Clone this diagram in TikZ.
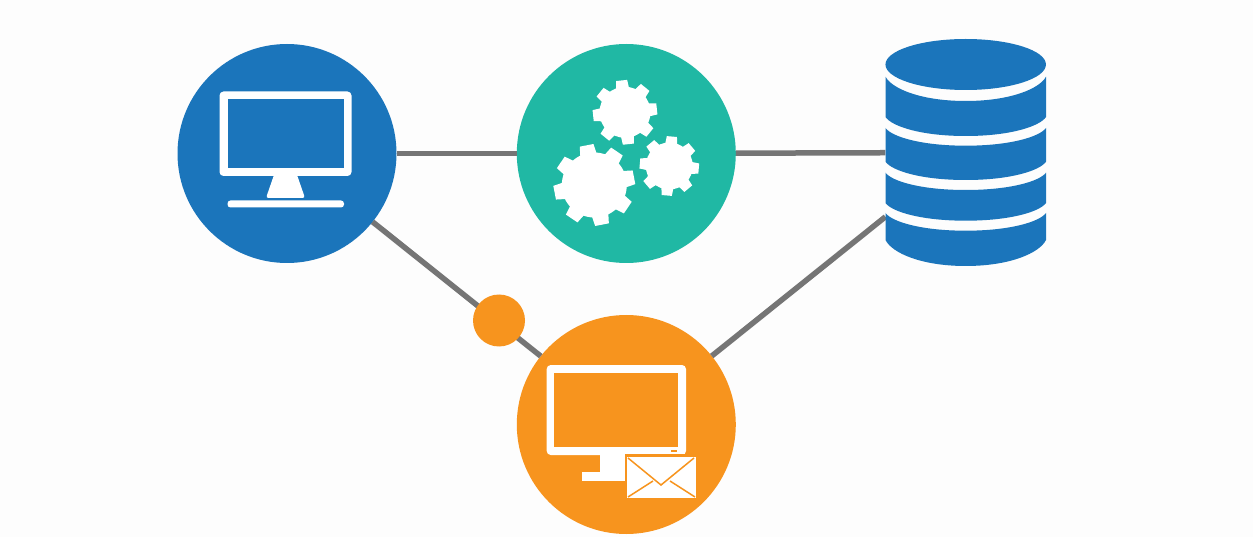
\documentclass[tikz,border=0pt]{standalone}
\definecolor{bblue}{HTML}{1B75BB}
\definecolor{tteal}{HTML}{20B8A4}
\definecolor{oorange}{HTML}{F7941E}
\definecolor{lgray}{HTML}{757575}
\definecolor{paper}{HTML}{FDFDFD}
\tikzset{
  hub/.style={circle,inner sep=0pt,minimum size=#1,outer sep=0pt},
  link/.style={draw=lgray,line width=5.5pt},
}
% gear: cx cy rin rout rotation
\newcommand{\mygear}[5]{%
  \fill[white] (#1,#2) circle[radius=#3];
  \foreach \k in {0,...,7}{%
    \pgfmathsetmacro{\aa}{#5+45*\k}%
    \pgfmathsetmacro{\db}{asin(0.21*#4/#3)}%
    \pgfmathsetmacro{\dt}{asin(0.17)}%
    \fill[white]
      ({#1+(#3-1)*sin(\aa-\db)},{#2-(#3-1)*cos(\aa-\db)}) --
      ({#1+#4*sin(\aa-\dt)},{#2-#4*cos(\aa-\dt)}) --
      ({#1+#4*sin(\aa+\dt)},{#2-#4*cos(\aa+\dt)}) --
      ({#1+(#3-1)*sin(\aa+\db)},{#2-(#3-1)*cos(\aa+\db)}) -- cycle;
  }%
}
% database layer: top-edge y, bottom-edge y, top ry, bottom ry
\newcommand{\dblayer}[4]{%
  \fill[bblue] (885.5,#1)
    .. controls (892,{#1+.5*#3}) and (921.4,{#1+#3}) .. (965.7,{#1+#3})
    .. controls (1010,{#1+#3}) and (1039.5,{#1+.5*#3}) .. (1046,#1)
    -- (1046,#2)
    .. controls (1039.5,{#2+.5*#4}) and (1010,{#2+#4}) .. (965.7,{#2+#4})
    .. controls (921.4,{#2+#4}) and (892,{#2+.5*#4}) .. (885.5,#2) -- cycle;
}
\begin{document}
\begin{tikzpicture}[x=1pt,y=-1pt]
\useasboundingbox (0,0) rectangle (1253,537);
\fill[paper] (0,0) rectangle (1253,537);
\node[hub=219pt,fill=bblue] (client) at (287,153.5) {};
\node[hub=219pt,fill=tteal] (server) at (626.3,153.5) {};
\node[hub=219pt,fill=oorange] (mail) at (626.3,424.5) {};
\node[minimum width=160.5pt,minimum height=227pt,inner sep=0pt,outer sep=0pt] (db) at (965.7,152.5) {};
\draw[link] (client) -- (server);
\draw[link] (server) -- (db);
\draw[link] (client) -- (mail);
\draw[link] (mail) -- (db);
\node[hub=52pt,fill=oorange] (dot) at (499,320.5) {};
% client monitor
\fill[white,rounded corners=4pt] (219.5,91.5) rectangle (351.5,176);
\fill[bblue] (227.5,99.5) rectangle (343.5,168.5);
\fill[white,rounded corners=2.5pt] (275,172) -- (296,172) -- (305,198) -- (266,198) -- cycle;
\fill[white,rounded corners=3pt] (227.5,200.5) rectangle (344,207.5);
% gears
\mygear{625}{112.3}{25.5}{32.5}{-6}
\mygear{594.3}{185}{32.5}{41}{-11}
\mygear{669.3}{166}{23.5}{30}{5}
% database
\fill[bblue] (965.7,64.5) ellipse[x radius=80.25,y radius=25.5];
\dblayer{76.7}{117}{24.3}{19}
\dblayer{128}{161.7}{17.7}{18.3}
\dblayer{172.7}{203}{17.3}{17.7}
\dblayer{213}{240}{17.7}{26}
% mail monitor
\fill[white,rounded corners=4pt] (546.7,365) rectangle (686,455);
\fill[oorange] (554.3,372.7) rectangle (678.3,447.3);
\fill[white] (600,455) rectangle (626,481);
\fill[white] (582.3,471.7) rectangle (626,480.7);
\fill[oorange] (671,450) rectangle (677,452);
\fill[oorange] (624.5,453.7) rectangle (698,500);
\fill[white] (626.7,456.7) rectangle (695.7,497.7);
\draw[oorange,line width=1.5pt] (628,458) -- (661,485) -- (694,458);
\draw[oorange,line width=1.5pt] (628,497) -- (653,481);
\draw[oorange,line width=1.5pt] (695,497) -- (670,481);
\end{tikzpicture}
\end{document}
